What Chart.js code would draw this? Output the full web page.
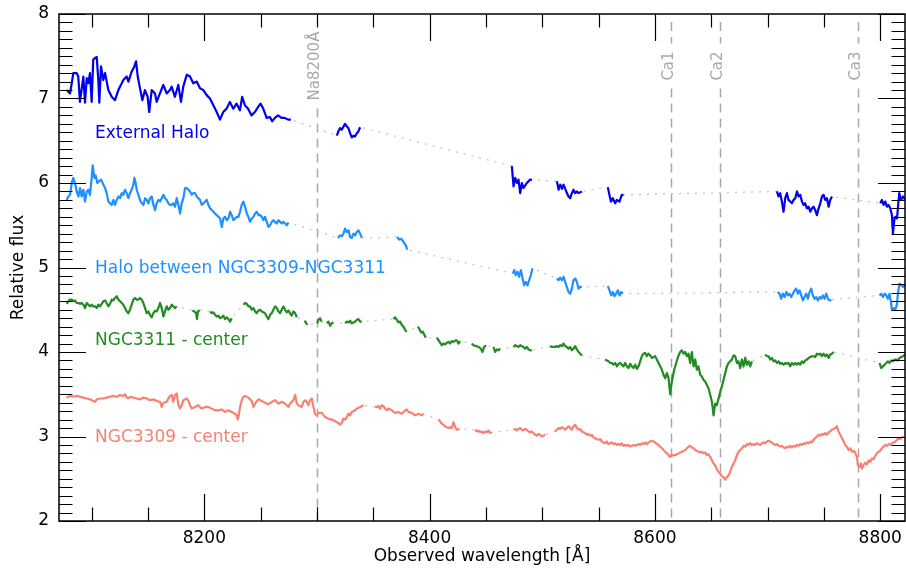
<!DOCTYPE html>
<html>
<head>
<meta charset="utf-8">
<script src="https://cdn.jsdelivr.net/npm/chart.js@4/dist/chart.umd.min.js"></script>
<style>
  body { margin: 0; background: #fff; }
  #wrap { width: 906px; height: 571px; }
</style>
</head>
<body>
<div id="wrap"><canvas id="spec" width="906" height="571"></canvas></div>
<script>
// Spectra as [wavelength (Å), relative flux]; null marks a masked gap
const extHalo = [
  [8077.8,7.10],[8080.8,7.06],[8082.3,7.18],[8083.7,7.30],[8086.7,7.30],[8088.1,7.26],[8089.6,6.96],[8092.6,7.26],[8094.1,6.95],[8095.6,7.24],
  [8097.0,7.18],[8098.5,7.30],[8100.0,6.96],[8101.4,7.46],[8103.0,7.48],[8104.5,7.49],[8105.9,7.22],[8106.8,6.95],[8108.3,7.38],[8110.3,7.22],
  [8111.9,7.30],[8114.8,7.10],[8117.8,7.02],[8120.7,6.98],[8122.2,7.04],[8123.7,7.10],[8126.7,7.18],[8128.1,7.22],[8131.1,7.26],[8132.6,7.20],
  [8135.6,7.32],[8137.9,7.38],[8139.4,7.44],[8140.9,7.26],[8142.9,7.12],[8145.0,6.98],[8147.3,7.10],[8149.7,7.02],[8151.1,6.84],[8153.3,7.10],
  [8156.2,7.06],[8157.7,6.96],[8160.6,7.06],[8163.6,7.16],[8166.6,7.06],[8169.5,7.10],[8171.0,7.14],[8173.9,7.02],[8176.9,7.16],[8179.3,6.96],
  [8181.3,7.14],[8184.4,7.28],[8187.3,7.26],[8190.2,7.18],[8193.2,7.20],[8196.2,7.12],[8199.1,7.10],[8202.1,7.04],[8205.0,7.00],[8208.0,6.92],
  [8211.0,6.84],[8213.9,6.75],[8216.8,6.84],[8219.8,6.88],[8222.7,6.96],[8225.7,6.88],[8228.6,6.94],[8231.6,6.86],[8233.6,7.02],[8236.0,6.92],
  [8238.9,6.88],[8241.9,6.80],[8244.9,6.84],[8247.8,6.90],[8249.9,6.94],[8252.3,6.88],[8255.3,6.77],[8258.2,6.78],[8260.2,6.73],[8262.6,6.77],
  [8265.5,6.80],[8268.5,6.77],[8271.5,6.77],[8274.4,6.75],[8276.8,6.75],
  null,
  [8317.6,6.56],[8319.0,6.61],[8320.5,6.65],[8322.0,6.63],[8324.9,6.70],[8326.5,6.67],[8327.9,6.65],[8329.4,6.59],[8330.9,6.54],[8332.4,6.56],
  [8333.8,6.55],[8335.4,6.59],[8336.8,6.61],[8338.3,6.66],
  null,
  [8473.0,6.20],[8474.5,5.96],[8476.0,6.06],[8477.5,6.00],[8478.9,6.04],[8480.4,5.88],[8481.9,6.00],[8483.3,5.94],[8486.3,6.00],[8489.2,6.04],[8490.8,6.04],
  null,
  [8513.0,6.02],[8514.5,5.92],[8516.0,5.98],[8517.5,5.93],[8518.9,5.98],[8521.3,5.90],[8523.3,5.84],[8524.8,5.82],[8526.3,5.88],[8527.7,5.92],
  [8529.2,5.88],[8530.7,5.90],[8532.2,5.88],[8535.2,5.90],
  null,
  [8558.2,5.95],[8559.6,5.86],[8560.9,5.78],[8562.6,5.82],[8564.7,5.76],[8566.2,5.80],[8568.5,5.78],[8570.6,5.86],[8572.1,5.86],
  null,
  [8708.3,5.90],[8709.7,5.84],[8711.2,5.88],[8712.7,5.78],[8714.2,5.66],[8715.7,5.82],[8717.2,5.88],[8718.6,5.80],[8720.1,5.78],[8721.6,5.76],
  [8723.1,5.80],[8724.6,5.82],[8726.1,5.90],[8727.5,5.84],[8729.0,5.86],[8730.5,5.78],[8732.0,5.74],[8733.4,5.76],[8734.9,5.70],[8736.4,5.72],
  [8737.9,5.66],[8739.4,5.70],[8740.8,5.72],[8742.3,5.68],[8743.8,5.62],[8745.3,5.70],[8746.8,5.76],[8748.3,5.84],[8749.7,5.86],[8751.2,5.80],
  [8752.7,5.82],[8754.2,5.72],[8755.6,5.80],[8757.2,5.84],
  null,
  [8800.0,5.76],[8801.5,5.80],[8803.0,5.74],[8804.5,5.78],[8806.0,5.72],[8807.4,5.74],[8808.9,5.70],[8810.4,5.62],[8811.3,5.40],[8812.5,5.56],
  [8813.4,5.60],[8814.9,5.58],[8815.8,5.72],[8816.9,5.88],[8818.4,5.80],[8820.2,5.84],[8822.2,5.80]
];

const midHalo = [
  [8077.8,5.80],[8079.3,5.84],[8080.8,5.86],[8082.3,6.00],[8083.7,6.06],[8085.2,6.00],[8086.7,5.90],[8088.2,5.84],[8089.7,5.94],[8091.1,5.84],
  [8092.6,5.92],[8094.1,5.78],[8095.6,5.90],[8097.1,5.92],[8098.5,5.86],[8100.0,6.06],[8100.9,6.21],[8102.4,6.06],[8103.6,6.09],[8105.0,6.00],
  [8106.5,6.02],[8108.3,6.04],[8110.4,5.98],[8111.9,5.94],[8113.3,5.88],[8114.8,5.78],[8116.3,5.76],[8117.8,5.74],[8119.3,5.80],[8120.7,5.74],
  [8122.2,5.80],[8123.7,5.84],[8125.2,5.82],[8126.7,5.88],[8128.1,5.86],[8129.6,5.92],[8131.1,5.88],[8132.6,5.82],[8134.0,5.88],[8135.5,5.92],
  [8137.0,5.98],[8137.9,6.06],[8139.1,6.00],[8140.0,5.92],[8141.5,5.86],[8142.9,5.80],[8144.4,5.76],[8145.9,5.74],[8147.4,5.82],[8148.9,5.80],
  [8150.3,5.76],[8151.8,5.82],[8153.3,5.84],[8154.8,5.74],[8156.3,5.68],[8157.7,5.76],[8159.2,5.80],[8160.7,5.78],[8162.2,5.82],[8163.7,5.86],
  [8165.1,5.82],[8166.6,5.80],[8168.1,5.76],[8169.6,5.74],[8171.1,5.74],[8172.5,5.76],[8174.0,5.72],[8175.5,5.82],[8177.0,5.74],[8178.5,5.64],
  [8179.9,5.76],[8181.4,5.82],[8182.9,5.94],[8184.4,5.94],[8185.9,5.92],[8187.3,5.90],[8188.8,5.86],[8190.3,5.88],[8191.8,5.88],[8193.2,5.84],
  [8194.7,5.82],[8196.2,5.80],[8197.7,5.74],[8199.2,5.76],[8200.7,5.78],[8202.2,5.80],[8203.6,5.74],[8205.1,5.70],[8206.6,5.68],[8208.1,5.66],
  [8209.5,5.64],[8211.0,5.62],[8212.5,5.60],[8214.0,5.58],[8215.5,5.48],[8216.9,5.58],[8218.4,5.60],[8219.9,5.56],[8221.4,5.58],[8222.9,5.66],
  [8224.3,5.62],[8225.8,5.56],[8227.3,5.58],[8228.8,5.60],[8230.3,5.60],[8231.7,5.66],[8233.2,5.74],[8234.7,5.78],[8236.2,5.72],[8237.7,5.64],
  [8239.1,5.60],[8240.6,5.54],[8242.1,5.58],[8243.6,5.60],[8245.1,5.64],[8246.5,5.66],[8248.0,5.62],[8249.5,5.62],[8251.0,5.60],[8252.5,5.56],
  [8253.9,5.60],[8255.4,5.54],[8256.9,5.48],[8258.4,5.50],[8259.9,5.54],[8261.3,5.56],[8262.8,5.54],[8264.3,5.52],[8265.8,5.56],[8267.3,5.54],
  [8268.7,5.52],[8270.2,5.54],[8271.7,5.52],[8273.2,5.50],[8274.7,5.53],
  null,
  [8318.5,5.35],[8320.5,5.38],[8322.0,5.37],[8323.5,5.40],[8325.0,5.46],[8326.5,5.42],[8328.0,5.44],[8329.4,5.36],[8330.9,5.35],[8332.4,5.40],
  [8333.9,5.38],[8335.3,5.42],[8336.8,5.44],[8338.3,5.40],[8339.8,5.35],
  null,
  [8371.1,5.36],[8373.0,5.33],[8375.0,5.34],[8377.0,5.30],[8379.0,5.26],[8380.0,5.21],
  null,
  [8473.9,4.93],[8475.1,4.97],[8476.5,4.91],[8478.0,4.95],[8479.5,4.89],[8481.0,4.97],[8482.5,4.87],[8483.9,4.79],[8485.4,4.83],[8486.9,4.79],
  [8488.4,4.85],[8489.9,4.91],[8491.3,4.99],
  null,
  [8512.9,4.87],[8514.4,4.85],[8515.9,4.88],[8517.4,4.85],[8518.9,4.89],[8520.3,4.83],[8521.8,4.77],[8523.3,4.71],[8524.8,4.69],[8526.3,4.75],
  [8527.7,4.85],[8529.2,4.87],[8530.7,4.83],[8532.2,4.75],[8533.7,4.77],[8535.2,4.77],
  null,
  [8558.2,4.78],[8559.7,4.73],[8561.2,4.67],[8562.7,4.71],[8564.1,4.66],[8565.6,4.69],[8567.1,4.73],[8568.6,4.67],[8570.1,4.71],[8571.5,4.69],
  null,
  [8708.9,4.71],[8710.6,4.69],[8712.1,4.63],[8713.6,4.69],[8715.1,4.65],[8716.6,4.71],[8718.0,4.67],[8719.5,4.69],[8721.0,4.65],[8722.5,4.69],
  [8724.0,4.73],[8725.4,4.75],[8726.9,4.69],[8728.4,4.73],[8729.9,4.67],[8731.4,4.61],[8732.8,4.65],[8734.3,4.69],[8735.8,4.63],[8737.3,4.71],
  [8738.8,4.75],[8740.2,4.67],[8741.7,4.63],[8743.2,4.65],[8744.7,4.61],[8746.2,4.65],[8747.6,4.63],[8749.1,4.67],[8750.6,4.63],[8752.1,4.69],
  [8753.6,4.63],[8755.0,4.61],[8756.5,4.62],
  null,
  [8799.4,4.67],[8800.9,4.69],[8802.4,4.65],[8803.9,4.69],[8805.4,4.67],[8806.8,4.63],[8808.3,4.69],[8809.5,4.59],[8810.4,4.50],[8811.9,4.52],
  [8813.4,4.50],[8814.8,4.56],[8815.7,4.69],[8817.2,4.81],[8818.7,4.79],[8820.2,4.77],[8821.6,4.79],[8822.8,4.78]
];

const ngc3311 = [
  [8077.8,4.57],[8079.3,4.60],[8080.8,4.62],[8082.3,4.62],[8083.7,4.60],[8085.2,4.61],[8086.7,4.58],[8088.2,4.58],[8089.7,4.57],[8091.1,4.58],
  [8092.6,4.56],[8094.1,4.52],[8095.6,4.58],[8097.1,4.56],[8098.5,4.54],[8100.0,4.56],[8101.5,4.54],[8103.0,4.54],[8104.5,4.52],[8105.9,4.56],
  [8107.4,4.54],[8108.9,4.57],[8110.4,4.60],[8111.9,4.61],[8113.3,4.58],[8114.8,4.54],[8116.3,4.57],[8117.8,4.62],[8119.3,4.61],[8120.7,4.64],
  [8122.2,4.66],[8123.7,4.62],[8125.2,4.60],[8126.7,4.58],[8128.1,4.56],[8129.6,4.52],[8131.1,4.48],[8132.6,4.46],[8134.0,4.50],[8135.5,4.56],
  [8137.0,4.62],[8138.5,4.64],[8140.0,4.62],[8141.5,4.62],[8142.9,4.64],[8144.4,4.62],[8145.9,4.58],[8147.4,4.52],[8148.9,4.46],[8150.3,4.48],
  [8151.8,4.44],[8153.3,4.41],[8154.8,4.46],[8156.3,4.49],[8157.7,4.48],[8159.2,4.52],[8160.7,4.58],[8162.2,4.52],[8163.7,4.42],[8165.1,4.48],
  [8166.6,4.54],[8168.1,4.50],[8169.6,4.52],[8171.1,4.56],[8172.5,4.54],[8174.0,4.52],[8175.5,4.54],
  null,
  [8189.4,4.49],[8191.2,4.48],[8192.7,4.46],[8193.5,4.39],[8194.4,4.48],[8195.0,4.50],
  null,
  [8205.1,4.48],[8206.6,4.46],[8208.1,4.47],[8209.5,4.44],[8211.0,4.42],[8212.5,4.43],[8214.0,4.40],[8215.5,4.41],[8216.9,4.43],[8218.4,4.39],
  [8219.9,4.41],[8221.4,4.39],[8222.9,4.36],[8224.3,4.40],
  null,
  [8234.7,4.56],[8236.2,4.58],[8237.7,4.57],[8239.1,4.54],[8240.6,4.54],[8242.1,4.50],[8243.6,4.52],[8245.1,4.48],[8246.5,4.46],[8248.0,4.49],
  [8249.5,4.50],[8251.0,4.48],[8252.5,4.47],[8253.9,4.46],[8255.4,4.42],[8256.9,4.39],[8258.4,4.44],[8259.9,4.46],[8261.3,4.50],[8262.8,4.54],
  [8264.3,4.52],[8265.8,4.48],[8267.3,4.46],[8268.7,4.50],[8270.2,4.54],[8271.7,4.50],[8273.2,4.47],[8274.7,4.49],[8276.1,4.46],[8277.6,4.43],
  [8279.1,4.48],[8280.6,4.46],[8282.1,4.41],
  null,
  [8288.9,4.37],[8290.0,4.35],[8291.5,4.32],
  null,
  [8300.1,4.34],[8301.3,4.38],[8302.8,4.40],[8304.0,4.36],
  null,
  [8308.7,4.34],[8310.2,4.36],[8311.7,4.31],[8313.1,4.34],[8314.6,4.35],
  null,
  [8325.0,4.34],[8326.5,4.36],[8328.0,4.35],[8329.4,4.37],[8330.9,4.34],[8332.4,4.35],[8333.9,4.36],[8335.3,4.38],[8336.8,4.39],[8338.3,4.36],[8339.8,4.36],
  null,
  [8367.9,4.39],[8369.4,4.41],[8370.9,4.38],[8372.3,4.35],[8373.8,4.36],[8375.3,4.32],[8376.8,4.30],[8378.3,4.26],[8379.7,4.24],
  null,
  [8389.5,4.30],[8391.0,4.27],[8392.5,4.23],[8394.0,4.24],[8395.4,4.20],[8396.6,4.17],
  null,
  [8406.4,4.17],[8407.9,4.14],[8409.3,4.11],[8410.8,4.08],[8412.3,4.10],[8413.8,4.09],[8415.3,4.11],[8416.7,4.12],[8418.2,4.10],[8419.7,4.13],
  [8421.2,4.12],[8423.5,4.14],[8424.5,4.13],[8425.6,4.10],[8427.1,4.13],
  null,
  [8437.4,4.10],[8438.9,4.08],[8441.3,4.07],[8443.4,4.06],[8445.4,4.04],[8446.9,4.00],[8448.4,4.06],[8450.2,4.08],
  null,
  [8456.7,4.06],[8458.2,4.00],[8459.6,4.03],[8461.1,4.02],[8462.6,4.04],
  null,
  [8474.4,4.06],[8475.9,4.08],[8477.4,4.07],[8478.9,4.06],[8480.4,4.08],[8481.8,4.07],[8483.3,4.06],[8484.8,4.04],[8486.3,4.06],[8487.8,4.03],
  [8489.2,4.02],[8490.7,4.02],
  null,
  [8507.0,4.07],[8508.5,4.06],[8511.4,4.06],[8512.9,4.07],[8514.4,4.06],[8515.9,4.08],[8517.4,4.07],[8518.8,4.10],[8520.3,4.07],[8521.8,4.06],
  [8523.3,4.04],[8524.8,4.06],[8526.2,4.02],[8527.7,4.04],[8529.2,4.07],[8530.7,4.03],[8532.2,4.00],[8533.6,3.98],[8535.1,3.96],
  null,
  [8555.8,3.91],[8557.3,3.90],[8558.8,3.89],[8560.3,3.87],[8561.8,3.87],[8563.2,3.85],[8564.7,3.87],[8566.2,3.83],[8567.7,3.86],[8569.2,3.87],
  [8570.6,3.85],[8572.1,3.83],[8573.6,3.87],[8575.1,3.83],[8576.6,3.81],[8578.0,3.86],[8579.5,3.83],[8581.0,3.81],[8582.5,3.85],[8584.0,3.80],
  [8585.4,3.83],[8586.9,3.89],[8588.4,3.95],[8589.9,3.98],[8591.4,3.99],[8592.8,3.95],[8594.3,3.98],[8595.8,3.96],[8597.3,3.93],[8598.8,3.94],
  [8600.2,3.95],[8601.7,3.91],[8603.2,3.87],[8604.7,3.83],[8606.2,3.79],[8607.6,3.73],[8609.1,3.69],[8610.6,3.75],[8612.1,3.69],[8613.0,3.57],
  [8613.6,3.50],[8614.4,3.59],[8615.6,3.69],[8617.1,3.79],[8618.9,3.87],[8620.7,3.95],[8622.4,4.00],[8623.9,4.02],[8625.4,3.98],[8626.9,4.00],
  [8628.4,3.95],[8629.8,3.98],[8631.3,3.87],[8632.8,4.00],[8634.3,3.83],[8635.8,3.91],[8637.2,3.79],[8638.7,3.83],[8640.2,3.73],[8641.7,3.71],
  [8643.2,3.67],[8644.6,3.65],[8646.1,3.61],[8647.6,3.57],[8649.1,3.49],[8650.6,3.41],[8651.4,3.33],[8652.0,3.25],[8653.5,3.39],[8655.0,3.37],
  [8656.5,3.45],[8658.0,3.53],[8659.4,3.59],[8660.9,3.67],[8662.4,3.75],[8663.9,3.83],[8665.4,3.87],[8666.8,3.89],[8668.3,3.91],[8669.8,3.96],
  [8671.3,3.95],[8672.8,3.87],[8674.2,3.89],[8675.7,3.81],[8677.2,3.91],[8678.7,3.83],[8680.2,3.93],[8681.6,3.85],[8683.1,3.89],[8684.6,3.83],[8686.1,3.89],
  null,
  [8697.9,3.97],[8699.4,3.95],[8700.9,3.95],[8702.4,3.91],[8703.8,3.93],[8705.3,3.89],[8706.8,3.90],[8708.3,3.87],[8709.8,3.89],[8711.2,3.86],
  [8712.7,3.87],[8714.2,3.85],[8715.7,3.87],[8717.2,3.86],[8718.6,3.87],[8720.1,3.83],[8721.6,3.87],[8723.1,3.85],[8724.6,3.87],[8726.0,3.85],
  [8727.5,3.87],[8729.0,3.85],[8730.5,3.89],[8732.0,3.87],[8733.4,3.90],[8734.9,3.91],[8736.4,3.93],[8737.9,3.94],[8739.4,3.95],[8740.8,3.95],
  [8742.3,3.94],[8743.8,3.98],[8745.3,3.97],[8746.8,3.98],[8748.2,3.95],[8749.7,3.98],[8751.2,3.95],[8752.7,3.97],[8754.2,3.93],[8755.6,3.97],
  [8757.1,3.98],[8758.6,4.00],
  null,
  [8799.4,3.87],[8800.9,3.81],[8802.4,3.83],[8803.9,3.85],[8805.4,3.87],[8806.8,3.89],[8808.3,3.87],[8809.8,3.90],[8811.3,3.89],[8812.8,3.91],
  [8814.2,3.91],[8815.7,3.90],[8817.2,3.93],[8818.7,3.94],[8820.2,3.95],[8822.2,3.97]
];

const ngc3309 = [
  [8077.8,3.46],[8080.8,3.48],[8083.7,3.47],[8086.7,3.48],[8089.7,3.47],[8092.6,3.46],[8095.6,3.45],[8098.5,3.44],[8101.5,3.42],[8103.0,3.41],
  [8104.5,3.44],[8107.4,3.45],[8110.4,3.45],[8113.3,3.46],[8116.3,3.47],[8119.3,3.48],[8122.2,3.47],[8125.2,3.49],[8128.1,3.48],[8129.6,3.50],
  [8131.1,3.46],[8132.6,3.45],[8134.0,3.47],[8137.0,3.46],[8140.0,3.45],[8142.9,3.44],[8145.9,3.46],[8148.9,3.45],[8151.8,3.43],[8154.8,3.44],
  [8157.7,3.42],[8160.7,3.41],[8162.2,3.35],[8163.7,3.40],[8166.6,3.41],[8168.1,3.45],[8169.6,3.48],[8171.1,3.49],[8172.5,3.41],[8174.0,3.49],
  [8175.5,3.51],[8177.0,3.37],[8178.5,3.33],[8179.9,3.37],[8181.4,3.43],[8184.4,3.45],[8185.9,3.42],[8187.3,3.37],[8188.8,3.33],[8191.8,3.35],
  [8194.7,3.37],[8197.7,3.33],[8200.7,3.35],[8203.6,3.35],[8206.6,3.33],[8209.5,3.31],[8212.5,3.31],[8215.5,3.32],[8218.4,3.29],[8221.4,3.31],
  [8224.3,3.29],[8227.3,3.27],[8228.8,3.25],[8229.7,3.20],[8230.8,3.27],[8231.7,3.35],[8233.2,3.43],[8234.7,3.47],[8236.2,3.48],[8239.1,3.46],
  [8242.1,3.42],[8243.6,3.35],[8245.1,3.39],[8248.0,3.44],[8251.0,3.42],[8253.9,3.40],[8256.9,3.38],[8259.9,3.41],[8262.8,3.43],[8265.8,3.39],
  [8268.7,3.41],[8271.7,3.39],[8274.7,3.35],[8276.1,3.39],[8277.6,3.41],[8279.1,3.43],[8280.6,3.49],[8282.1,3.39],[8283.5,3.37],[8286.5,3.35],
  [8288.0,3.41],[8289.5,3.43],[8290.9,3.41],[8292.4,3.37],[8293.9,3.43],[8295.4,3.45],[8296.9,3.35],[8298.3,3.27],[8299.8,3.25],[8301.3,3.28],
  [8304.3,3.28],[8307.2,3.23],[8310.2,3.21],[8313.1,3.20],[8316.1,3.18],[8319.1,3.16],[8320.5,3.14],[8322.0,3.16],[8323.5,3.21],[8325.0,3.20],
  [8326.5,3.23],[8328.0,3.27],[8329.4,3.25],[8330.9,3.29],[8333.9,3.31],[8335.3,3.33],[8338.3,3.35],[8341.3,3.37],
  null,
  [8351.6,3.35],[8353.1,3.35],[8354.6,3.36],[8356.1,3.33],[8357.5,3.37],[8359.0,3.36],[8360.5,3.33],[8362.0,3.31],[8363.5,3.33],[8366.4,3.31],
  [8369.4,3.28],[8372.3,3.29],[8375.3,3.27],[8378.3,3.31],[8379.7,3.32],[8381.2,3.29],[8384.2,3.28],[8387.1,3.25],[8390.1,3.27],[8393.1,3.25],[8394.5,3.27],
  null,
  [8407.9,3.20],[8409.3,3.18],[8410.8,3.15],[8412.3,3.14],[8413.8,3.12],[8416.7,3.10],[8418.2,3.11],[8419.7,3.10],[8421.2,3.17],[8422.6,3.11],
  [8424.1,3.08],[8426.5,3.09],
  null,
  [8440.4,3.08],[8441.9,3.06],[8443.4,3.07],[8444.8,3.05],[8446.3,3.06],[8447.8,3.04],[8449.3,3.06],[8450.8,3.05],[8452.2,3.07],[8453.7,3.04],[8455.2,3.05],
  null,
  [8474.4,3.08],[8475.9,3.09],[8477.4,3.07],[8478.9,3.09],[8480.4,3.10],[8481.8,3.08],[8483.3,3.07],[8484.8,3.09],[8486.3,3.08],[8487.8,3.06],
  [8489.2,3.05],[8490.7,3.06],[8492.2,3.04],[8493.7,3.02],[8495.2,3.01],[8496.6,3.03],[8498.1,3.02],[8499.6,3.00],[8501.1,3.01],[8502.6,3.02],
  null,
  [8511.4,3.06],[8512.9,3.08],[8514.4,3.10],[8515.9,3.09],[8517.4,3.11],[8518.8,3.10],[8520.3,3.08],[8521.8,3.10],[8523.3,3.12],[8524.8,3.10],
  [8526.2,3.08],[8527.7,3.12],[8529.2,3.14],[8530.7,3.10],[8532.2,3.08],[8533.6,3.09],[8535.1,3.06],[8536.6,3.05],[8538.1,3.04],[8539.6,3.02],
  [8541.0,3.03],[8542.5,3.01],[8544.0,3.02],[8545.5,2.99],[8547.0,2.98],[8548.4,2.97],[8549.9,2.96],[8551.4,2.97],[8552.9,2.94],[8554.4,2.93],
  [8555.8,2.92],[8557.3,2.94],[8558.8,2.91],[8560.3,2.92],[8561.8,2.93],[8563.2,2.91],[8564.7,2.92],[8566.2,2.90],[8567.7,2.91],[8569.2,2.90],
  [8570.6,2.92],[8572.1,2.89],[8573.6,2.90],[8575.1,2.89],[8576.6,2.90],[8578.0,2.88],[8579.5,2.89],[8581.0,2.90],[8582.5,2.89],[8584.0,2.90],
  [8585.4,2.91],[8586.9,2.90],[8588.4,2.92],[8589.9,2.91],[8591.4,2.93],[8592.8,2.91],[8594.3,2.93],[8595.8,2.94],[8597.3,2.95],[8598.8,2.94],
  [8600.2,2.93],[8601.7,2.91],[8603.2,2.90],[8604.7,2.88],[8606.2,2.86],[8607.6,2.84],[8609.1,2.82],[8610.6,2.80],[8612.1,2.78],[8613.0,2.76],
  [8614.2,2.78],[8615.0,2.77],[8616.5,2.78],[8618.0,2.78],[8619.5,2.79],[8621.0,2.80],[8622.4,2.81],[8623.9,2.82],[8625.4,2.83],[8626.9,2.84],
  [8628.4,2.86],[8629.8,2.88],[8631.3,2.89],[8632.8,2.87],[8634.3,2.86],[8635.8,2.84],[8637.2,2.83],[8638.7,2.82],[8640.2,2.81],[8641.7,2.82],
  [8643.2,2.80],[8644.6,2.81],[8646.1,2.78],[8647.6,2.79],[8649.1,2.76],[8650.6,2.72],[8652.0,2.68],[8653.5,2.66],[8655.0,2.61],[8656.5,2.58],
  [8658.0,2.56],[8659.4,2.53],[8660.9,2.52],[8662.4,2.49],[8663.9,2.52],[8665.4,2.54],[8666.8,2.58],[8668.3,2.64],[8669.8,2.68],[8671.3,2.72],
  [8672.8,2.78],[8674.2,2.82],[8675.7,2.84],[8677.2,2.86],[8678.7,2.89],[8680.2,2.88],[8681.6,2.91],[8683.1,2.90],[8684.6,2.92],[8686.1,2.90],
  [8687.6,2.91],[8689.0,2.90],[8690.5,2.92],[8692.0,2.91],[8693.5,2.90],[8695.0,2.92],[8696.4,2.93],[8697.9,2.92],[8699.4,2.94],[8700.9,2.95],
  [8702.4,2.94],[8703.8,2.93],[8705.3,2.91],[8706.8,2.90],[8708.3,2.91],[8709.8,2.89],[8711.2,2.88],[8712.7,2.89],[8714.2,2.87],[8715.7,2.86],
  [8717.2,2.88],[8718.6,2.87],[8720.1,2.89],[8721.6,2.87],[8723.1,2.89],[8724.6,2.88],[8726.0,2.90],[8727.5,2.89],[8729.0,2.91],[8730.5,2.90],
  [8732.0,2.92],[8733.4,2.91],[8734.9,2.93],[8736.4,2.92],[8737.9,2.94],[8739.4,2.93],[8740.8,2.96],[8742.3,2.98],[8743.8,3.00],[8745.3,3.02],
  [8746.8,3.01],[8748.2,3.03],[8749.7,3.02],[8751.2,3.04],[8752.7,3.02],[8754.2,3.05],[8755.6,3.06],[8757.1,3.08],[8758.6,3.09],[8760.1,3.10],
  [8761.6,3.12],[8763.0,3.06],[8764.5,3.02],[8766.0,2.98],[8767.5,2.94],[8769.0,2.90],[8770.4,2.88],[8771.9,2.84],[8773.4,2.86],[8774.9,2.82],
  [8776.4,2.83],[8777.8,2.81],[8779.3,2.76],[8780.2,2.66],[8781.7,2.64],[8782.9,2.68],[8783.8,2.62],[8785.2,2.66],[8786.7,2.69],[8788.2,2.67],
  [8789.7,2.72],[8791.2,2.70],[8792.6,2.74],[8794.1,2.73],[8795.6,2.77],[8797.1,2.80],[8798.6,2.82],[8800.0,2.83],[8801.5,2.86],[8803.0,2.88],
  [8804.5,2.90],[8806.0,2.89],[8807.4,2.91],[8808.9,2.90],[8810.4,2.92],[8811.9,2.93],[8813.4,2.94],[8814.8,2.96],[8816.3,2.98],[8817.8,2.97],
  [8819.3,2.99],[8820.8,3.00]
];

const spectraNames = ['External Halo', 'Halo between NGC3309-NGC3311', 'NGC3311 - center', 'NGC3309 - center'];
const spectraColors = ['#0000f0', '#1e90ff', '#228b22', '#fa8072'];

// marked absorption features (observed frame)
const lineWaves = [8300, 8614, 8658, 8780];
const lineNames = ['Na8200Å', 'Ca1', 'Ca2', 'Ca3'];

const xTicks = [8200, 8400, 8600, 8800];
const yTicks = [2, 3, 4, 5, 6, 7, 8];

const FONT = "'DejaVu Sans', sans-serif";

function toPoints(pairs) {
  const pts = [];
  let lastX = null;
  pairs.forEach(p => {
    if (p === null) pts.push({ x: lastX, y: null });
    else { pts.push({ x: p[0], y: p[1] }); lastX = p[0]; }
  });
  return pts;
}

const allSpectra = [extHalo, midHalo, ngc3311, ngc3309];
const datasets = [];
allSpectra.forEach((s, i) => {
  const pts = toPoints(s);
  datasets.push({
    label: spectraNames[i], data: pts, borderColor: spectraColors[i], borderWidth: 2.2,
    pointRadius: 0, tension: 0, spanGaps: false, borderJoinStyle: 'round', order: 1
  });
  // faint dotted bridge across the masked regions
  datasets.push({
    label: spectraNames[i] + ' gaps', data: pts, borderColor: '#c4c4c4', borderWidth: 1.3,
    borderDash: [2, 6], pointRadius: 0, tension: 0, spanGaps: true, order: 2
  });
});

const decorations = {
  id: 'decorations',
  beforeDatasetsDraw(chart) {
    const { ctx, chartArea: a, scales: { x } } = chart;
    ctx.save();
    ctx.font = '15px ' + FONT;
    lineWaves.forEach((w, i) => {
      const px = Math.round(x.getPixelForValue(w)) + 0.5;
      const half = ctx.measureText(lineNames[i]).width / 2;
      const cy = 66;
      ctx.strokeStyle = '#a8a8a8';
      ctx.lineWidth = 1.5;
      ctx.setLineDash([9, 6]);
      ctx.beginPath();
      ctx.moveTo(px, a.top + 8);
      ctx.lineTo(px, cy - half - 8);
      ctx.moveTo(px, cy + half + 8);
      ctx.lineTo(px, a.bottom);
      ctx.stroke();
      ctx.setLineDash([]);
      ctx.save();
      ctx.translate(px + 1, cy);
      ctx.rotate(-Math.PI / 2);
      ctx.fillStyle = '#a8a8a8';
      ctx.textAlign = 'center';
      ctx.textBaseline = 'alphabetic';
      ctx.fillText(lineNames[i], 0, 0);
      ctx.restore();
    });
    ctx.restore();
  },
  afterDatasetsDraw(chart) {
    const { ctx, chartArea: a, scales: { x, y } } = chart;
    ctx.save();
    // spectrum names
    ctx.font = '17px ' + FONT;
    ctx.textBaseline = 'middle';
    const nameY = [6.59, 4.99, 4.13, 2.99];
    spectraNames.forEach((n, i) => {
      ctx.fillStyle = spectraColors[i];
      ctx.fillText(n, x.getPixelForValue(8103), y.getPixelForValue(nameY[i]));
    });
    // frame
    ctx.strokeStyle = '#000';
    ctx.lineWidth = 1.5;
    ctx.strokeRect(a.left, a.top, a.right - a.left, a.bottom - a.top);
    // inward ticks on all four sides
    ctx.lineWidth = 1.2;
    ctx.beginPath();
    for (let v = Math.ceil(x.min / 50) * 50; v <= x.max; v += 50) {
      const px = Math.round(x.getPixelForValue(v)) + 0.5;
      const len = v % 200 === 0 ? 27 : 13.5;
      ctx.moveTo(px, a.bottom); ctx.lineTo(px, a.bottom - len);
      ctx.moveTo(px, a.top); ctx.lineTo(px, a.top + len);
    }
    for (let k = Math.round(y.min * 10); k <= Math.round(y.max * 10); k++) {
      const py = Math.round(y.getPixelForValue(k / 10)) + 0.5;
      const len = k % 10 === 0 ? 27 : 13.5;
      ctx.moveTo(a.left, py); ctx.lineTo(a.left + len, py);
      ctx.moveTo(a.right, py); ctx.lineTo(a.right - len, py);
    }
    ctx.stroke();
    ctx.restore();
  }
};

new Chart(document.getElementById('spec'), {
  type: 'line',
  data: { datasets },
  plugins: [decorations],
  options: {
    responsive: false,
    animation: false,
    events: [],
    layout: { padding: { top: 14, right: 1, left: 0, bottom: 0 } },
    plugins: { legend: { display: false }, tooltip: { enabled: false } },
    scales: {
      x: {
        type: 'linear', min: 8071, max: 8822,
        grid: { display: false, drawTicks: false }, border: { display: false },
        afterBuildTicks: s => { s.ticks = xTicks.map(v => ({ value: v })); },
        afterFit: s => { s.height = 50; s.paddingLeft = 0; s.paddingRight = 0; },
        ticks: { padding: 7, color: '#000', font: { family: FONT, size: 17 }, callback: v => String(v) },
        title: { display: true, text: 'Observed wavelength [Å]', color: '#000', font: { family: FONT, size: 17 }, padding: { top: 0, bottom: 4 } }
      },
      y: {
        type: 'linear', min: 2, max: 8,
        grid: { display: false, drawTicks: false }, border: { display: false },
        afterBuildTicks: s => { s.ticks = yTicks.map(v => ({ value: v })); },
        afterFit: s => { s.width = 59; s.paddingTop = 0; s.paddingBottom = 0; },
        ticks: { padding: 10, color: '#000', font: { family: FONT, size: 17 }, callback: v => String(v) },
        title: { display: true, text: 'Relative flux', color: '#000', font: { family: FONT, size: 17 }, padding: { top: 8, bottom: 0 } }
      }
    }
  }
});
</script>
</body>
</html>
